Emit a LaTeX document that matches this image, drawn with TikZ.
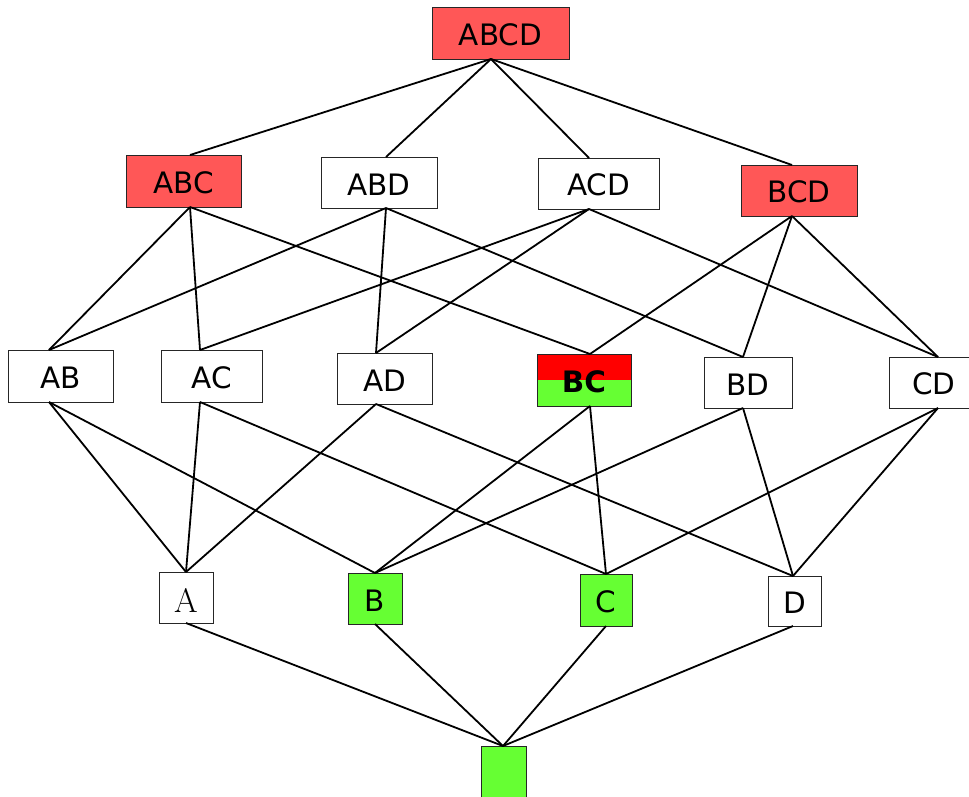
\documentclass[tikz,border=0pt]{standalone}
\usepackage{fontspec}
\newfontfamily\dv{DejaVu Sans}
\definecolor{lred}{HTML}{FF5757}
\definecolor{bred}{HTML}{FF0000}
\definecolor{lgreen}{HTML}{66FF33}
\tikzset{
  box/.style={draw=black!85, line width=0.9pt, inner sep=0pt, outer sep=0pt, minimum width=#1, text height=25pt, font=\dv\fontsize{29.5}{31}\selectfont},
  redbox/.style={box=#1, fill=lred},
  greenbox/.style={box=#1, fill=lgreen},
  link/.style={line width=1.8pt, black},
}
\newcommand\ports[3]{\coordinate (#1t) at ([xshift=#2pt]#1.north); \coordinate (#1b) at ([xshift=#3pt]#1.south);}
\begin{document}
\begin{tikzpicture}[x=1pt,y=-1pt]
\clip (0,0) rectangle (969,796);
\fill[white] (0,0) rectangle (969,796);
% level 4
\node[redbox=137pt, minimum height=52pt] (ABCD) at (500.5,33) {ABCD};
% level 3
\node[redbox=115pt, minimum height=52pt] (ABC) at (183.5,181) {ABC};
\node[box=116pt, minimum height=51pt] (ABD) at (379,182.5) {ABD};
\node[box=121pt, minimum height=51pt] (ACD) at (598.5,183.5) {ACD};
\node[redbox=116pt, minimum height=51pt] (BCD) at (799,190.5) {BCD};
% level 2
\node[box=105pt, minimum height=52pt] (AB) at (60.5,376) {AB};
\node[box=101pt, minimum height=52pt] (AC) at (211.5,376) {AC};
\node[box=95pt, minimum height=51pt] (AD) at (384.5,378.5) {AD};
\node[box=94pt, minimum height=52pt, font=\dv\bfseries\fontsize{29.5}{31}\selectfont,
  path picture={
    \fill[bred] (path picture bounding box.north west) rectangle (path picture bounding box.east);
    \fill[lgreen] (path picture bounding box.west) rectangle (path picture bounding box.south east);
  }] (BC) at (584,380) {BC};
\node[box=88pt, minimum height=51pt] (BD) at (748,382.5) {BD};
\node[box=90pt, minimum height=51pt] (CD) at (934,382.5) {CD};
% level 1
\node[box=54pt, minimum height=51pt, text height=30pt, font=\rmfamily\fontsize{34}{36}\selectfont] (A) at (186,597.5) {A};
\node[greenbox=54pt, minimum height=51pt] (B) at (375,598.5) {B};
\node[greenbox=52pt, minimum height=52pt] (C) at (606,600) {C};
\node[box=53pt, minimum height=50pt] (D) at (794.5,601) {D};
% level 0
\node[greenbox=45pt, minimum height=51pt] (E) at (503.5,771.5) {};
% ports
\ports{ABCD}{0}{-9.5}
\ports{ABC}{6.5}{6.5}
\ports{ABD}{7}{7}
\ports{ACD}{-9.5}{-9.5}
\ports{BCD}{-7}{-7}
\ports{AB}{-11.5}{-11.5}
\ports{AC}{-11.5}{-11.5}
\ports{AD}{-8.5}{-8.5}
\ports{BC}{6}{6}
\ports{BD}{-5}{-5}
\ports{CD}{4}{4}
\ports{A}{0}{0}
\ports{B}{0}{0}
\ports{C}{0}{0}
\ports{D}{-1.5}{-1.5}
\ports{E}{-0.5}{-0.5}
% links
\foreach \u in {ABC,ABD,ACD,BCD} \draw[link] (ABCDb) -- (\u t);
\foreach \u in {AB,AC,BC} \draw[link] (ABCb) -- (\u t);
\foreach \u in {AB,AD,BD} \draw[link] (ABDb) -- (\u t);
\foreach \u in {AC,AD,CD} \draw[link] (ACDb) -- (\u t);
\foreach \u in {BC,BD,CD} \draw[link] (BCDb) -- (\u t);
\foreach \u in {A,B} \draw[link] (ABb) -- (\u t);
\foreach \u in {A,C} \draw[link] (ACb) -- (\u t);
\foreach \u in {A,D} \draw[link] (ADb) -- (\u t);
\foreach \u in {B,C} \draw[link] (BCb) -- (\u t);
\foreach \u in {B,D} \draw[link] (BDb) -- (\u t);
\foreach \u in {C,D} \draw[link] (CDb) -- (\u t);
\foreach \u in {A,B,C,D} \draw[link] (\u b) -- (Et);
\end{tikzpicture}
\end{document}
